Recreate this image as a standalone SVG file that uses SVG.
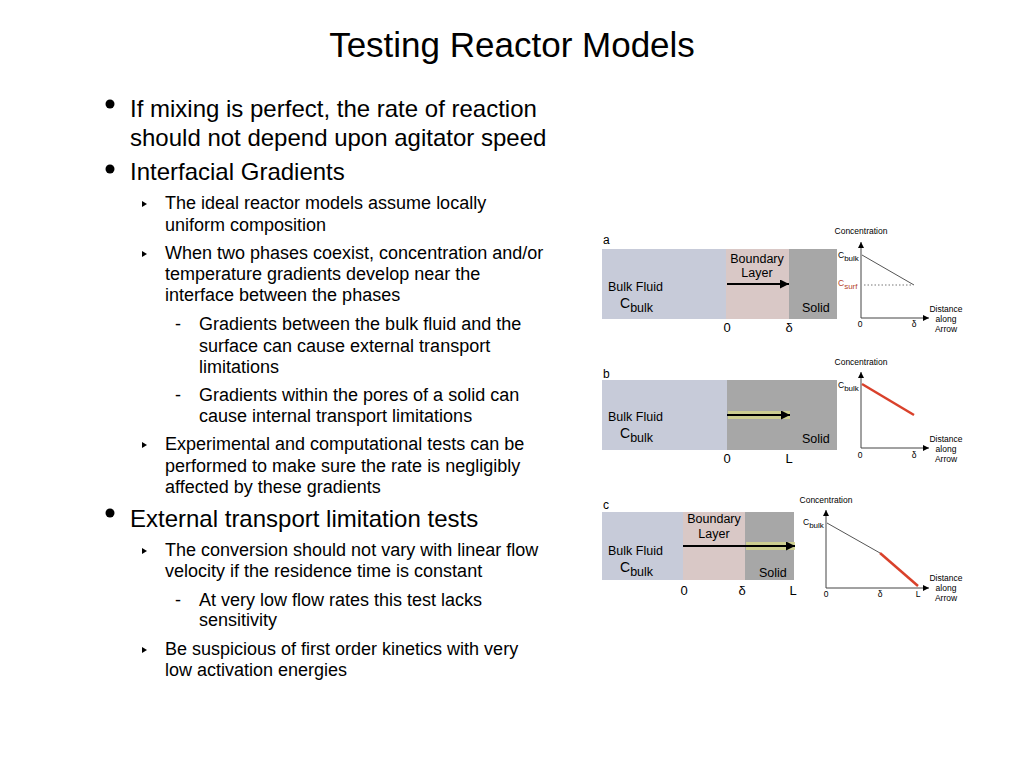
<svg xmlns="http://www.w3.org/2000/svg" width="1024" height="768" viewBox="0 0 1024 768">
<style>
text{font-family:"Liberation Sans",Arial,Helvetica,sans-serif;fill:#000}
.title{font-size:35px}
.l1{font-size:24px}
.l2{font-size:18px}
.lab{font-size:12.5px}
.pl{font-size:12px}
.tick{font-size:13px}
.g{font-size:8.5px}
.bulk{fill:#c7cbd9}
.bnd{fill:#d9c8c6}
.sol{fill:#a7a7a7}
.ax{stroke:#444;stroke-width:1;fill:none}
.arr{stroke:#000;stroke-width:2;fill:none}
.glow{stroke:#d3d58c;stroke-width:8;fill:none;opacity:0.85}
.red{stroke:#d9412b;stroke-width:2.5;fill:none}
.thin{stroke:#555;stroke-width:1;fill:none}
</style>
<defs>
<marker id="ah" viewBox="0 0 10 10" refX="10" refY="5" markerWidth="5" markerHeight="4.5" orient="auto" markerUnits="strokeWidth"><path d="M0,0 L10,5 L0,10 z" fill="#000"/></marker>
<marker id="axh" viewBox="0 0 10 10" refX="10" refY="5" markerWidth="7" markerHeight="6" orient="auto" markerUnits="strokeWidth"><path d="M0,0 L10,5 L0,10 z" fill="#000"/></marker>
</defs>
<rect width="1024" height="768" fill="#fff"/>
<text class="title" x="512" y="57" text-anchor="middle">Testing Reactor Models</text>

<g id="bullets">
<circle cx="110" cy="104" r="4.5"/>
<text class="l1" x="130" y="117">If mixing is perfect, the rate of reaction</text>
<text class="l1" x="130" y="146">should not depend upon agitator speed</text>
<circle cx="110" cy="169" r="4.5"/>
<text class="l1" x="130" y="180">Interfacial Gradients</text>
<polygon points="142,201 147,204 142,207"/>
<text class="l2" x="165" y="209">The ideal reactor models assume locally</text>
<text class="l2" x="165" y="231">uniform composition</text>
<polygon points="142,251 147,254 142,257"/>
<text class="l2" x="165" y="259">When two phases coexist, concentration and/or</text>
<text class="l2" x="165" y="280">temperature gradients develop near the</text>
<text class="l2" x="165" y="301">interface between the phases</text>
<text class="l2" x="175" y="330">-</text>
<text class="l2" x="199" y="330">Gradients between the bulk fluid and the</text>
<text class="l2" x="199" y="352">surface can cause external transport</text>
<text class="l2" x="199" y="373">limitations</text>
<text class="l2" x="175" y="401">-</text>
<text class="l2" x="199" y="401">Gradients within the pores of a solid can</text>
<text class="l2" x="199" y="422">cause internal transport limitations</text>
<polygon points="142,442 147,445 142,448"/>
<text class="l2" x="165" y="450">Experimental and computational tests can be</text>
<text class="l2" x="165" y="472">performed to make sure the rate is negligibly</text>
<text class="l2" x="165" y="493">affected by these gradients</text>
<circle cx="110" cy="513" r="4.5"/>
<text class="l1" x="130" y="527">External transport limitation tests</text>
<polygon points="142,548 147,551 142,554"/>
<text class="l2" x="165" y="556">The conversion should not vary with linear flow</text>
<text class="l2" x="165" y="577">velocity if the residence time is constant</text>
<text class="l2" x="175" y="606">-</text>
<text class="l2" x="199" y="606">At very low flow rates this test lacks</text>
<text class="l2" x="199" y="626">sensitivity</text>
<polygon points="142,647 147,650 142,653"/>
<text class="l2" x="165" y="655">Be suspicious of first order kinetics with very</text>
<text class="l2" x="165" y="676">low activation energies</text>
</g>

<g id="panel-a">
<text class="pl" x="603" y="244">a</text>
<rect class="bulk" x="602" y="249" width="124" height="70"/>
<rect class="bnd" x="726" y="249" width="63" height="70"/>
<rect class="sol" x="789" y="249" width="48" height="70"/>
<text class="lab" x="608" y="291">Bulk Fluid</text>
<text x="620" y="308" font-size="14">C<tspan font-size="12.5" dy="4">bulk</tspan></text>
<text class="lab" x="757" y="263" text-anchor="middle">Boundary</text>
<text class="lab" x="757" y="277" text-anchor="middle">Layer</text>
<text class="lab" x="802" y="312">Solid</text>
<line class="arr" x1="727" y1="284" x2="789" y2="284" marker-end="url(#ah)"/>
<text class="tick" x="727" y="332" text-anchor="middle">0</text>
<text class="tick" x="789" y="332" text-anchor="middle">δ</text>
</g>
<g id="graph-a">
<text class="g" x="861" y="234" text-anchor="middle">Concentration</text>
<line class="ax" x1="861" y1="318" x2="861" y2="242" marker-end="url(#axh)"/>
<line class="ax" x1="861" y1="318" x2="929" y2="318" marker-end="url(#axh)"/>
<text class="g" x="838" y="258" font-size="9">C<tspan dy="3" font-size="8">bulk</tspan></text>
<text class="g" x="838" y="286" font-size="9" style="fill:#b5452c">C<tspan dy="3" font-size="8">surf</tspan></text>
<line class="thin" x1="862" y1="255" x2="914" y2="285"/>
<line x1="864" y1="285" x2="913" y2="285" stroke="#777" stroke-width="1" stroke-dasharray="1.5 2"/>
<text class="g" x="860" y="327" text-anchor="middle">0</text>
<text class="g" x="914" y="327" text-anchor="middle">δ</text>
<text class="g" x="946" y="312" text-anchor="middle">Distance</text>
<text class="g" x="946" y="322" text-anchor="middle">along</text>
<text class="g" x="946" y="332" text-anchor="middle">Arrow</text>
</g>

<g id="panel-b">
<text class="pl" x="603" y="378">b</text>
<rect class="bulk" x="602" y="380" width="125" height="70"/>
<rect class="sol" x="727" y="380" width="110" height="70"/>
<text class="lab" x="608" y="421">Bulk Fluid</text>
<text x="620" y="438" font-size="14">C<tspan font-size="12.5" dy="4">bulk</tspan></text>
<text class="lab" x="802" y="443">Solid</text>
<line class="glow" x1="728" y1="415" x2="790" y2="415"/>
<line class="arr" x1="727" y1="415" x2="790" y2="415" marker-end="url(#ah)"/>
<text class="tick" x="727" y="463" text-anchor="middle">0</text>
<text class="tick" x="789" y="463" text-anchor="middle">L</text>
</g>
<g id="graph-b">
<text class="g" x="861" y="365" text-anchor="middle">Concentration</text>
<line class="ax" x1="861" y1="448" x2="861" y2="372" marker-end="url(#axh)"/>
<line class="ax" x1="861" y1="448" x2="929" y2="448" marker-end="url(#axh)"/>
<text class="g" x="838" y="388" font-size="9">C<tspan dy="3" font-size="8">bulk</tspan></text>
<line class="red" x1="862" y1="384" x2="914" y2="415"/>
<text class="g" x="860" y="458" text-anchor="middle">0</text>
<text class="g" x="914" y="458" text-anchor="middle">δ</text>
<text class="g" x="946" y="442" text-anchor="middle">Distance</text>
<text class="g" x="946" y="452" text-anchor="middle">along</text>
<text class="g" x="946" y="462" text-anchor="middle">Arrow</text>
</g>

<g id="panel-c">
<text class="pl" x="603" y="509">c</text>
<rect class="bulk" x="602" y="512" width="81" height="68"/>
<rect class="bnd" x="683" y="512" width="62" height="68"/>
<rect class="sol" x="745" y="512" width="49" height="68"/>
<text class="lab" x="608" y="555">Bulk Fluid</text>
<text x="620" y="572" font-size="14">C<tspan font-size="12.5" dy="4">bulk</tspan></text>
<text class="lab" x="714" y="523" text-anchor="middle">Boundary</text>
<text class="lab" x="714" y="538" text-anchor="middle">Layer</text>
<text class="lab" x="759" y="577">Solid</text>
<line class="glow" x1="746" y1="546" x2="795" y2="546"/>
<line class="arr" x1="683" y1="546" x2="795" y2="546" marker-end="url(#ah)"/>
<text class="tick" x="684" y="595" text-anchor="middle">0</text>
<text class="tick" x="742" y="595" text-anchor="middle">δ</text>
<text class="tick" x="793" y="595" text-anchor="middle">L</text>
</g>
<g id="graph-c">
<text class="g" x="826" y="503" text-anchor="middle">Concentration</text>
<line class="ax" x1="826" y1="588" x2="826" y2="510" marker-end="url(#axh)"/>
<line class="ax" x1="826" y1="588" x2="929" y2="588" marker-end="url(#axh)"/>
<text class="g" x="803" y="525" font-size="9">C<tspan dy="3" font-size="8">bulk</tspan></text>
<line class="thin" x1="827" y1="523" x2="880" y2="553"/>
<line class="red" x1="880" y1="553" x2="918" y2="586"/>
<text class="g" x="826" y="597" text-anchor="middle">0</text>
<text class="g" x="880" y="597" text-anchor="middle">δ</text>
<text class="g" x="918" y="597" text-anchor="middle">L</text>
<text class="g" x="946" y="581" text-anchor="middle">Distance</text>
<text class="g" x="946" y="591" text-anchor="middle">along</text>
<text class="g" x="946" y="601" text-anchor="middle">Arrow</text>
</g>
</svg>
